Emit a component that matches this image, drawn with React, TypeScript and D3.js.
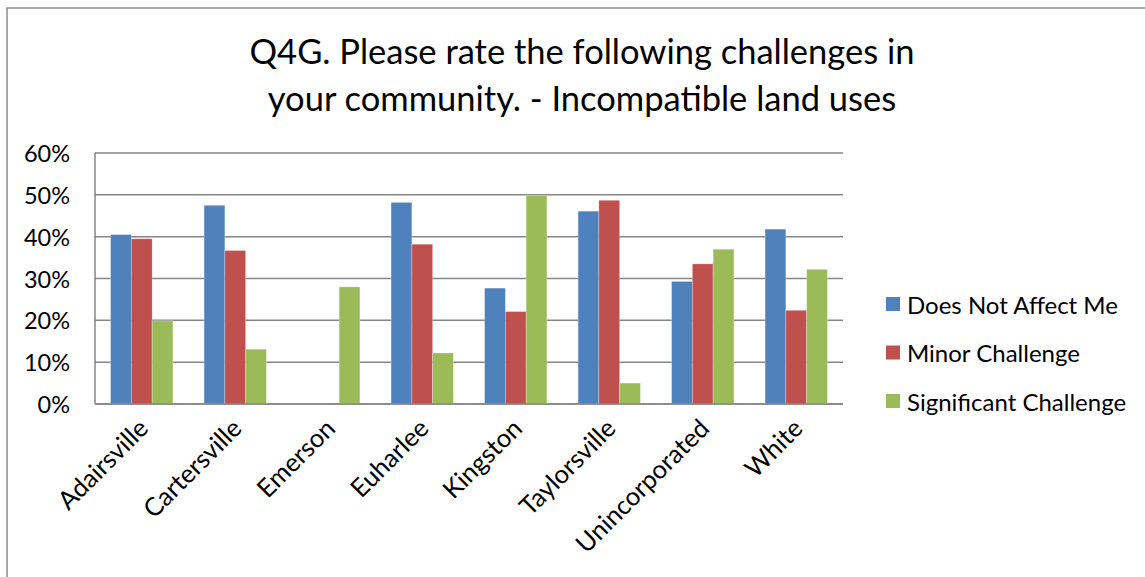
import { useEffect, useRef } from 'react';
import * as d3 from 'd3';

const categories = ['Adairsville', 'Cartersville', 'Emerson', 'Euharlee', 'Kingston', 'Taylorsville', 'Unincorporated', 'White'];
const seriesNames = ['Does Not Affect Me', 'Minor Challenge', 'Significant Challenge'];
const doesNotAffect = [40.5, 47.5, 0, 48.2, 27.7, 46.1, 29.3, 41.8];
const minorChallenge = [39.5, 36.7, 0, 38.2, 22.1, 48.7, 33.5, 22.4];
const significantChallenge = [19.9, 13.1, 28.0, 12.2, 49.9, 5.0, 37.0, 32.2];
const yTicks = [0, 10, 20, 30, 40, 50, 60];
const titleLines = ['Q4G. Please rate the following challenges in', 'your community. - Incompatible land uses'];

const colors = ['#4F81BD', '#C0504D', '#9BBB59'];
const W = 1145;
const H = 577;
const FONT = 'Lato, "Open Sans", sans-serif';

export default function App() {
  const svgRef = useRef<SVGSVGElement>(null);

  useEffect(() => {
    if (!svgRef.current) return;
    const svg = d3.select(svgRef.current);
    svg.selectAll('*').remove();

    const left = 95, right = 843, top = 153, bottom = 404;
    const series = [doesNotAffect, minorChallenge, significantChallenge];

    // outer frame (runs off the right and bottom edges)
    svg.append('rect')
      .attr('x', 7).attr('y', 8)
      .attr('width', W + 20).attr('height', H + 20)
      .attr('fill', '#fff')
      .attr('stroke', '#8c8c8c').attr('stroke-width', 1.5);

    // title
    titleLines.forEach((line, i) => {
      svg.append('text')
        .attr('x', 582).attr('y', 64 + i * 47)
        .attr('text-anchor', 'middle')
        .attr('font-family', FONT)
        .attr('font-size', '34.5px')
        .attr('fill', '#000')
        .text(line);
    });

    const x0 = d3.scaleBand().domain(categories).range([left, right]).paddingInner(0).paddingOuter(0);
    const bw = x0.bandwidth() / 4.5;
    const y = d3.scaleLinear().domain([0, 60]).range([bottom, top]);

    // gridlines + y labels
    yTicks.forEach(t => {
      svg.append('line')
        .attr('x1', left).attr('x2', right)
        .attr('y1', y(t)).attr('y2', y(t))
        .attr('stroke', '#868686').attr('stroke-width', 1.5);
      svg.append('text')
        .attr('x', 70).attr('y', y(t))
        .attr('text-anchor', 'end')
        .attr('dominant-baseline', 'central')
        .attr('font-family', FONT)
        .attr('font-size', '23.5px')
        .attr('fill', '#000')
        .text(`${t}%`);
    });

    svg.append('line')
      .attr('x1', left).attr('x2', left)
      .attr('y1', top).attr('y2', bottom)
      .attr('stroke', '#868686').attr('stroke-width', 1.5);

    // bars
    categories.forEach((c, ci) => {
      const start = (x0(c) as number) + bw * 0.75;
      series.forEach((vals, si) => {
        const v = vals[ci];
        if (!v) return;
        svg.append('rect')
          .attr('x', start + si * bw)
          .attr('y', y(v))
          .attr('width', bw)
          .attr('height', y(0) - y(v))
          .attr('fill', colors[si])
          .attr('stroke', 'rgba(255,255,255,0.35)')
          .attr('stroke-width', 0.8);
      });
    });

    // baseline on top of bars
    svg.append('line')
      .attr('x1', left).attr('x2', right)
      .attr('y1', bottom).attr('y2', bottom)
      .attr('stroke', '#868686').attr('stroke-width', 1.5);

    // category labels
    categories.forEach(c => {
      const cx = (x0(c) as number) + x0.bandwidth() / 2 + 1;
      svg.append('text')
        .attr('transform', `translate(${cx},${bottom + 19}) rotate(-45)`)
        .attr('text-anchor', 'end')
        .attr('dominant-baseline', 'central')
        .attr('font-family', FONT)
        .attr('font-size', '25.5px')
        .attr('fill', '#000')
        .text(c);
    });

    // legend
    seriesNames.forEach((name, i) => {
      const ly = 304 + i * 48.5;
      svg.append('rect')
        .attr('x', 886).attr('y', ly - 7)
        .attr('width', 14).attr('height', 14)
        .attr('fill', colors[i]);
      svg.append('text')
        .attr('x', 907).attr('y', ly)
        .attr('dominant-baseline', 'central')
        .attr('font-family', FONT)
        .attr('font-size', '24px')
        .attr('fill', '#000')
        .text(name);
    });
  }, []);

  return (
    <div style={{ position: 'absolute', left: 0, top: 0 }}>
      <svg ref={svgRef} width={W} height={H} style={{ display: 'block' }} />
    </div>
  );
}
